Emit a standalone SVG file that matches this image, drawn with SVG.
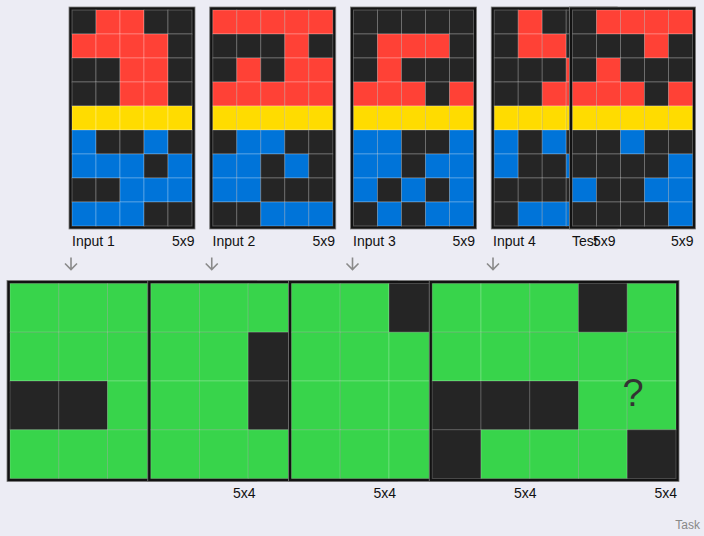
<svg xmlns="http://www.w3.org/2000/svg" width="704" height="536" viewBox="0 0 704 536">
<style>
.k{fill:#252525}.r{fill:#ff4136}.y{fill:#ffdc00}.b{fill:#0074d9}.g{fill:#38d44b}
.in rect.c{width:24px;height:24px;stroke:rgba(255,255,255,0.25);stroke-width:1}
.out rect.c{width:48.75px;height:48.75px;stroke:rgba(255,255,255,0.2);stroke-width:1}
.frame{fill:#121212;stroke:#7a7a7a;stroke-width:0.8}
text{font-family:"Liberation Sans",Arial,sans-serif;fill:#111}
.lbl{font-size:14px}
.arr{fill:none;stroke:#8a8a8a;stroke-width:1.6}
</style>
<rect width="704" height="536" fill="#ececf4"/>

<g id="input1" class="in" transform="translate(72,10)">
<rect class="frame" x="-3" y="-3" width="126" height="222"/>
<rect class="c k" x="0" y="0"/><rect class="c r" x="24" y="0"/><rect class="c r" x="48" y="0"/><rect class="c k" x="72" y="0"/><rect class="c k" x="96" y="0"/>
<rect class="c r" x="0" y="24"/><rect class="c r" x="24" y="24"/><rect class="c r" x="48" y="24"/><rect class="c r" x="72" y="24"/><rect class="c k" x="96" y="24"/>
<rect class="c k" x="0" y="48"/><rect class="c k" x="24" y="48"/><rect class="c r" x="48" y="48"/><rect class="c r" x="72" y="48"/><rect class="c k" x="96" y="48"/>
<rect class="c k" x="0" y="72"/><rect class="c k" x="24" y="72"/><rect class="c r" x="48" y="72"/><rect class="c r" x="72" y="72"/><rect class="c k" x="96" y="72"/>
<rect class="c y" x="0" y="96"/><rect class="c y" x="24" y="96"/><rect class="c y" x="48" y="96"/><rect class="c y" x="72" y="96"/><rect class="c y" x="96" y="96"/>
<rect class="c b" x="0" y="120"/><rect class="c k" x="24" y="120"/><rect class="c k" x="48" y="120"/><rect class="c b" x="72" y="120"/><rect class="c k" x="96" y="120"/>
<rect class="c b" x="0" y="144"/><rect class="c b" x="24" y="144"/><rect class="c b" x="48" y="144"/><rect class="c k" x="72" y="144"/><rect class="c b" x="96" y="144"/>
<rect class="c k" x="0" y="168"/><rect class="c k" x="24" y="168"/><rect class="c b" x="48" y="168"/><rect class="c b" x="72" y="168"/><rect class="c b" x="96" y="168"/>
<rect class="c b" x="0" y="192"/><rect class="c b" x="24" y="192"/><rect class="c b" x="48" y="192"/><rect class="c k" x="72" y="192"/><rect class="c k" x="96" y="192"/>
</g>

<g id="input2" class="in" transform="translate(212.75,10)">
<rect class="frame" x="-3" y="-3" width="126" height="222"/>
<rect class="c r" x="0" y="0"/><rect class="c r" x="24" y="0"/><rect class="c r" x="48" y="0"/><rect class="c r" x="72" y="0"/><rect class="c r" x="96" y="0"/>
<rect class="c k" x="0" y="24"/><rect class="c k" x="24" y="24"/><rect class="c k" x="48" y="24"/><rect class="c r" x="72" y="24"/><rect class="c k" x="96" y="24"/>
<rect class="c k" x="0" y="48"/><rect class="c r" x="24" y="48"/><rect class="c k" x="48" y="48"/><rect class="c r" x="72" y="48"/><rect class="c r" x="96" y="48"/>
<rect class="c r" x="0" y="72"/><rect class="c r" x="24" y="72"/><rect class="c r" x="48" y="72"/><rect class="c r" x="72" y="72"/><rect class="c r" x="96" y="72"/>
<rect class="c y" x="0" y="96"/><rect class="c y" x="24" y="96"/><rect class="c y" x="48" y="96"/><rect class="c y" x="72" y="96"/><rect class="c y" x="96" y="96"/>
<rect class="c k" x="0" y="120"/><rect class="c b" x="24" y="120"/><rect class="c b" x="48" y="120"/><rect class="c k" x="72" y="120"/><rect class="c k" x="96" y="120"/>
<rect class="c b" x="0" y="144"/><rect class="c b" x="24" y="144"/><rect class="c k" x="48" y="144"/><rect class="c b" x="72" y="144"/><rect class="c k" x="96" y="144"/>
<rect class="c b" x="0" y="168"/><rect class="c b" x="24" y="168"/><rect class="c k" x="48" y="168"/><rect class="c k" x="72" y="168"/><rect class="c k" x="96" y="168"/>
<rect class="c k" x="0" y="192"/><rect class="c k" x="24" y="192"/><rect class="c b" x="48" y="192"/><rect class="c b" x="72" y="192"/><rect class="c b" x="96" y="192"/>
</g>

<g id="input3" class="in" transform="translate(353.5,10)">
<rect class="frame" x="-3" y="-3" width="126" height="222"/>
<rect class="c k" x="0" y="0"/><rect class="c k" x="24" y="0"/><rect class="c k" x="48" y="0"/><rect class="c k" x="72" y="0"/><rect class="c k" x="96" y="0"/>
<rect class="c k" x="0" y="24"/><rect class="c r" x="24" y="24"/><rect class="c r" x="48" y="24"/><rect class="c r" x="72" y="24"/><rect class="c k" x="96" y="24"/>
<rect class="c k" x="0" y="48"/><rect class="c r" x="24" y="48"/><rect class="c k" x="48" y="48"/><rect class="c k" x="72" y="48"/><rect class="c k" x="96" y="48"/>
<rect class="c r" x="0" y="72"/><rect class="c r" x="24" y="72"/><rect class="c r" x="48" y="72"/><rect class="c k" x="72" y="72"/><rect class="c r" x="96" y="72"/>
<rect class="c y" x="0" y="96"/><rect class="c y" x="24" y="96"/><rect class="c y" x="48" y="96"/><rect class="c y" x="72" y="96"/><rect class="c y" x="96" y="96"/>
<rect class="c b" x="0" y="120"/><rect class="c b" x="24" y="120"/><rect class="c k" x="48" y="120"/><rect class="c k" x="72" y="120"/><rect class="c b" x="96" y="120"/>
<rect class="c b" x="0" y="144"/><rect class="c b" x="24" y="144"/><rect class="c k" x="48" y="144"/><rect class="c b" x="72" y="144"/><rect class="c b" x="96" y="144"/>
<rect class="c b" x="0" y="168"/><rect class="c k" x="24" y="168"/><rect class="c b" x="48" y="168"/><rect class="c k" x="72" y="168"/><rect class="c b" x="96" y="168"/>
<rect class="c k" x="0" y="192"/><rect class="c b" x="24" y="192"/><rect class="c k" x="48" y="192"/><rect class="c b" x="72" y="192"/><rect class="c b" x="96" y="192"/>
</g>

<g id="input4" class="in" transform="translate(494.25,10)">
<rect class="frame" x="-3" y="-3" width="126" height="222"/>
<rect class="c k" x="0" y="0"/><rect class="c r" x="24" y="0"/><rect class="c k" x="48" y="0"/><rect class="c k" x="72" y="0"/><rect class="c k" x="96" y="0"/>
<rect class="c k" x="0" y="24"/><rect class="c r" x="24" y="24"/><rect class="c r" x="48" y="24"/><rect class="c k" x="72" y="24"/><rect class="c k" x="96" y="24"/>
<rect class="c k" x="0" y="48"/><rect class="c k" x="24" y="48"/><rect class="c k" x="48" y="48"/><rect class="c r" x="72" y="48"/><rect class="c k" x="96" y="48"/>
<rect class="c k" x="0" y="72"/><rect class="c k" x="24" y="72"/><rect class="c r" x="48" y="72"/><rect class="c r" x="72" y="72"/><rect class="c k" x="96" y="72"/>
<rect class="c y" x="0" y="96"/><rect class="c y" x="24" y="96"/><rect class="c y" x="48" y="96"/><rect class="c y" x="72" y="96"/><rect class="c y" x="96" y="96"/>
<rect class="c b" x="0" y="120"/><rect class="c k" x="24" y="120"/><rect class="c b" x="48" y="120"/><rect class="c k" x="72" y="120"/><rect class="c k" x="96" y="120"/>
<rect class="c b" x="0" y="144"/><rect class="c k" x="24" y="144"/><rect class="c k" x="48" y="144"/><rect class="c b" x="72" y="144"/><rect class="c k" x="96" y="144"/>
<rect class="c k" x="0" y="168"/><rect class="c k" x="24" y="168"/><rect class="c k" x="48" y="168"/><rect class="c k" x="72" y="168"/><rect class="c k" x="96" y="168"/>
<rect class="c k" x="0" y="192"/><rect class="c b" x="24" y="192"/><rect class="c b" x="48" y="192"/><rect class="c b" x="72" y="192"/><rect class="c k" x="96" y="192"/>
</g>

<g id="test-input" class="in" transform="translate(572.5,10)">
<rect class="frame" x="-3" y="-3" width="126" height="222"/>
<rect class="c k" x="0" y="0"/><rect class="c r" x="24" y="0"/><rect class="c r" x="48" y="0"/><rect class="c r" x="72" y="0"/><rect class="c r" x="96" y="0"/>
<rect class="c k" x="0" y="24"/><rect class="c k" x="24" y="24"/><rect class="c k" x="48" y="24"/><rect class="c r" x="72" y="24"/><rect class="c k" x="96" y="24"/>
<rect class="c k" x="0" y="48"/><rect class="c r" x="24" y="48"/><rect class="c k" x="48" y="48"/><rect class="c k" x="72" y="48"/><rect class="c k" x="96" y="48"/>
<rect class="c r" x="0" y="72"/><rect class="c r" x="24" y="72"/><rect class="c r" x="48" y="72"/><rect class="c k" x="72" y="72"/><rect class="c r" x="96" y="72"/>
<rect class="c y" x="0" y="96"/><rect class="c y" x="24" y="96"/><rect class="c y" x="48" y="96"/><rect class="c y" x="72" y="96"/><rect class="c y" x="96" y="96"/>
<rect class="c k" x="0" y="120"/><rect class="c k" x="24" y="120"/><rect class="c b" x="48" y="120"/><rect class="c k" x="72" y="120"/><rect class="c k" x="96" y="120"/>
<rect class="c k" x="0" y="144"/><rect class="c k" x="24" y="144"/><rect class="c k" x="48" y="144"/><rect class="c k" x="72" y="144"/><rect class="c b" x="96" y="144"/>
<rect class="c b" x="0" y="168"/><rect class="c k" x="24" y="168"/><rect class="c k" x="48" y="168"/><rect class="c b" x="72" y="168"/><rect class="c b" x="96" y="168"/>
<rect class="c k" x="0" y="192"/><rect class="c k" x="24" y="192"/><rect class="c k" x="48" y="192"/><rect class="c k" x="72" y="192"/><rect class="c b" x="96" y="192"/>
</g>

<g id="output1" class="out" transform="translate(10,283.5)">
<rect class="frame" x="-3" y="-3" width="249.75" height="201"/>
<rect class="c g" x="0" y="0"/><rect class="c g" x="48.75" y="0"/><rect class="c g" x="97.5" y="0"/><rect class="c g" x="146.25" y="0"/><rect class="c g" x="195" y="0"/>
<rect class="c g" x="0" y="48.75"/><rect class="c g" x="48.75" y="48.75"/><rect class="c g" x="97.5" y="48.75"/><rect class="c g" x="146.25" y="48.75"/><rect class="c g" x="195" y="48.75"/>
<rect class="c k" x="0" y="97.5"/><rect class="c k" x="48.75" y="97.5"/><rect class="c g" x="97.5" y="97.5"/><rect class="c g" x="146.25" y="97.5"/><rect class="c g" x="195" y="97.5"/>
<rect class="c g" x="0" y="146.25"/><rect class="c g" x="48.75" y="146.25"/><rect class="c g" x="97.5" y="146.25"/><rect class="c g" x="146.25" y="146.25"/><rect class="c g" x="195" y="146.25"/>
</g>

<g id="output2" class="out" transform="translate(150.75,283.5)">
<rect class="frame" x="-3" y="-3" width="249.75" height="201"/>
<rect class="c g" x="0" y="0"/><rect class="c g" x="48.75" y="0"/><rect class="c g" x="97.5" y="0"/><rect class="c g" x="146.25" y="0"/><rect class="c g" x="195" y="0"/>
<rect class="c g" x="0" y="48.75"/><rect class="c g" x="48.75" y="48.75"/><rect class="c k" x="97.5" y="48.75"/><rect class="c g" x="146.25" y="48.75"/><rect class="c g" x="195" y="48.75"/>
<rect class="c g" x="0" y="97.5"/><rect class="c g" x="48.75" y="97.5"/><rect class="c k" x="97.5" y="97.5"/><rect class="c g" x="146.25" y="97.5"/><rect class="c g" x="195" y="97.5"/>
<rect class="c g" x="0" y="146.25"/><rect class="c g" x="48.75" y="146.25"/><rect class="c g" x="97.5" y="146.25"/><rect class="c g" x="146.25" y="146.25"/><rect class="c g" x="195" y="146.25"/>
</g>

<g id="output3" class="out" transform="translate(291.5,283.5)">
<rect class="frame" x="-3" y="-3" width="249.75" height="201"/>
<rect class="c g" x="0" y="0"/><rect class="c g" x="48.75" y="0"/><rect class="c k" x="97.5" y="0"/><rect class="c g" x="146.25" y="0"/><rect class="c g" x="195" y="0"/>
<rect class="c g" x="0" y="48.75"/><rect class="c g" x="48.75" y="48.75"/><rect class="c g" x="97.5" y="48.75"/><rect class="c g" x="146.25" y="48.75"/><rect class="c g" x="195" y="48.75"/>
<rect class="c g" x="0" y="97.5"/><rect class="c g" x="48.75" y="97.5"/><rect class="c g" x="97.5" y="97.5"/><rect class="c g" x="146.25" y="97.5"/><rect class="c g" x="195" y="97.5"/>
<rect class="c g" x="0" y="146.25"/><rect class="c g" x="48.75" y="146.25"/><rect class="c g" x="97.5" y="146.25"/><rect class="c g" x="146.25" y="146.25"/><rect class="c g" x="195" y="146.25"/>
</g>

<g id="output4" class="out" transform="translate(432.25,283.5)">
<rect class="frame" x="-3" y="-3" width="249.75" height="201"/>
<rect class="c g" x="0" y="0"/><rect class="c g" x="48.75" y="0"/><rect class="c g" x="97.5" y="0"/><rect class="c k" x="146.25" y="0"/><rect class="c g" x="195" y="0"/>
<rect class="c g" x="0" y="48.75"/><rect class="c g" x="48.75" y="48.75"/><rect class="c g" x="97.5" y="48.75"/><rect class="c g" x="146.25" y="48.75"/><rect class="c g" x="195" y="48.75"/>
<rect class="c k" x="0" y="97.5"/><rect class="c k" x="48.75" y="97.5"/><rect class="c k" x="97.5" y="97.5"/><rect class="c g" x="146.25" y="97.5"/><rect class="c g" x="195" y="97.5"/>
<rect class="c k" x="0" y="146.25"/><rect class="c g" x="48.75" y="146.25"/><rect class="c g" x="97.5" y="146.25"/><rect class="c g" x="146.25" y="146.25"/><rect class="c k" x="195" y="146.25"/>
</g>

<g id="test-output">
<text x="633" y="406" font-size="38" text-anchor="middle" style="fill:#333">?</text>
</g>

<g id="labels" class="lbl">
<text x="72" y="246">Input 1</text><text x="194.5" y="246" text-anchor="end">5x9</text>
<text x="212.5" y="246">Input 2</text><text x="335" y="246" text-anchor="end">5x9</text>
<text x="353" y="246">Input 3</text><text x="475" y="246" text-anchor="end">5x9</text>
<text x="493" y="246">Input 4</text><text x="615.5" y="246" text-anchor="end">5x9</text>
<text x="572" y="246">Test</text><text x="693.5" y="246" text-anchor="end">5x9</text>
<text x="255.5" y="498" text-anchor="end">5x4</text>
<text x="396" y="498" text-anchor="end">5x4</text>
<text x="536.5" y="498" text-anchor="end">5x4</text>
<text x="677" y="498" text-anchor="end">5x4</text>
</g>

<g id="connectors" class="arr">
<path d="M71 257.5V269.5M65 263.5L71 269.5L77 263.5"/>
<path d="M211.75 257.5V269.5M205.75 263.5L211.75 269.5L217.75 263.5"/>
<path d="M352.5 257.5V269.5M346.5 263.5L352.5 269.5L358.5 263.5"/>
<path d="M493 257.5V269.5M487 263.5L493 269.5L499 263.5"/>
</g>

<text x="700" y="529" font-size="12" text-anchor="end" style="fill:#888">Task</text>
</svg>
